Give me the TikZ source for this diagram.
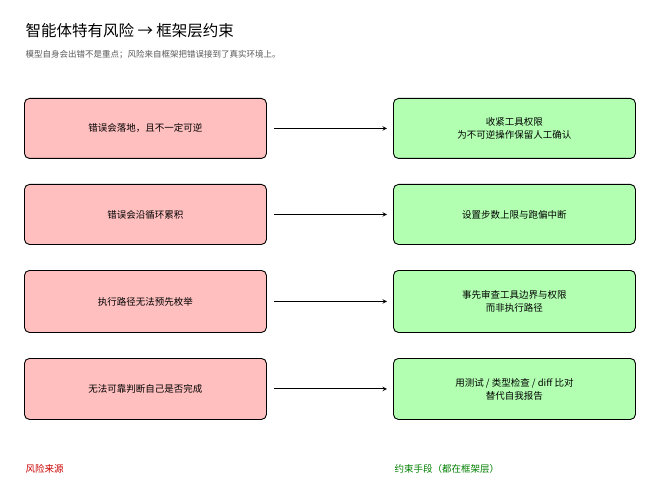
\documentclass[tikz,border=0pt]{standalone}
\usepackage{fontspec}
\setmainfont{Noto Sans CJK SC}
\begin{document}
\begin{tikzpicture}[x=1pt,y=-1pt,
 box/.style={draw=black,line width=0.9pt,rounded corners=5pt,minimum width=242pt,anchor=north west,align=center,font=\fontsize{9.5}{13}\selectfont},
 risk/.style={box,fill=red!25!white},
 fix/.style={box,fill=green!30!white},
 arr/.style={-stealth,line width=1pt}]
\useasboundingbox[fill=white] (0,0) rectangle (659,500);
\node[anchor=west,font=\fontsize{15.5}{18}\selectfont] (t) at (22,31) {智能体特有风险 → 框架层约束};
\node[anchor=west,font=\fontsize{8.5}{10}\selectfont,text=black!65] (s) at (22,55) {模型自身会出错不是重点；风险来自框架把错误接到了真实环境上。};
\foreach \i/\y/\h/\a/\b in {1/98/60/{错误会落地，且不一定可逆}/{收紧工具权限\\为不可逆操作保留人工确认},
 2/184/60/{错误会沿循环累积}/{设置步数上限与跑偏中断},
 3/270/62/{执行路径无法预先枚举}/{事先审查工具边界与权限\\而非执行路径},
 4/358/61/{无法可靠判断自己是否完成}/{用测试 / 类型检查 / diff 比对\\替代自我报告}}{
 \node[risk,minimum height=\h pt] (l\i) at (24,\y) {\a};
 \node[fix,minimum height=\h pt] (r\i) at (393,\y) {\b};
 \draw[arr] ([xshift=7pt]l\i.east) -- ([xshift=-6pt]r\i.west);
}
\node[anchor=west,font=\fontsize{9.5}{11}\selectfont,text=red!80!black] (k1) at (22,469) {风险来源};
\node[anchor=west,font=\fontsize{9.5}{11}\selectfont,text=green!50!black] (k2) at (391,469) {约束手段（都在框架层）};
\end{tikzpicture}
\end{document}
